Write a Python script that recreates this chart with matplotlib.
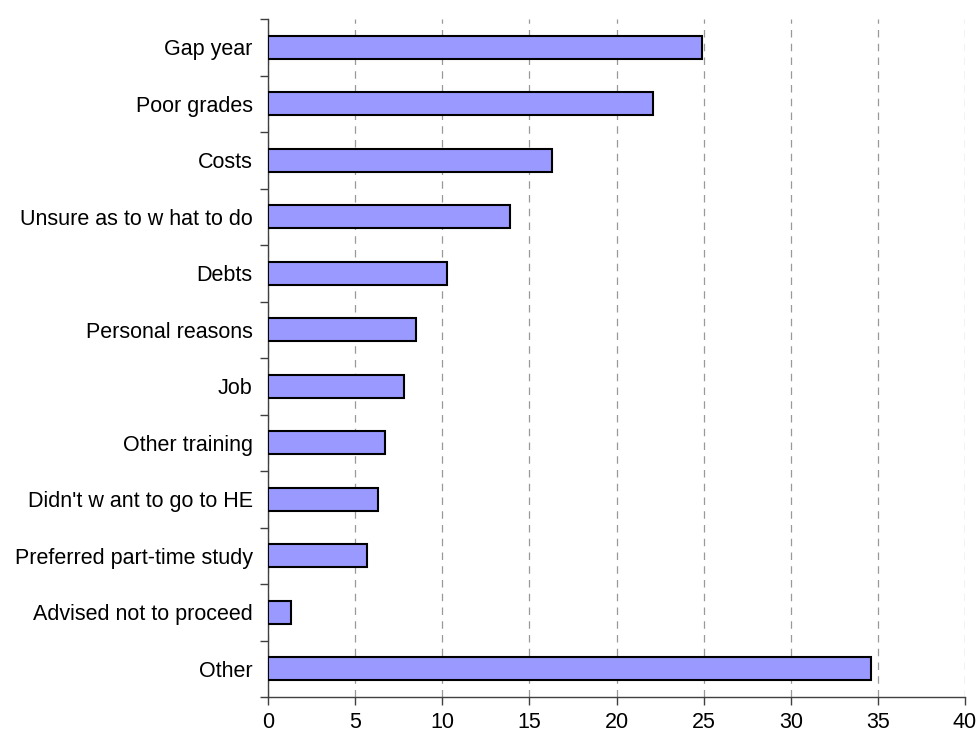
import numpy as np
import matplotlib.pyplot as plt

plt.rcParams['font.family'] = ['Liberation Sans', 'DejaVu Sans']

# reasons, top to bottom
reasons = ['Gap year', 'Poor grades', 'Costs', 'Unsure as to w hat to do', 'Debts',
           'Personal reasons', 'Job', 'Other training', "Didn't w ant to go to HE",
           'Preferred part-time study', 'Advised not to proceed', 'Other']
percent = [24.9, 22.1, 16.3, 13.9, 10.3, 8.5, 7.8, 6.7, 6.3, 5.7, 1.3, 34.6]
xticks = [0, 5, 10, 15, 20, 25, 30, 35, 40]

fig = plt.figure(figsize=(9.79, 7.36), dpi=100)
ax = fig.add_axes([268/979, 1 - 697/736, 697/979, 678/736])

n = len(reasons)
y = np.arange(n)
ax.barh(y, percent, height=0.4, color='#9999ff', edgecolor='black', linewidth=1.5, zorder=3)

ax.set_ylim(n - 0.5, -0.5)
ax.set_xlim(0, 40)

ax.set_yticks(y)
ax.set_yticklabels(reasons, fontsize=15.5)
ax.set_yticks(np.arange(n + 1) - 0.5, minor=True)
ax.tick_params(axis='y', which='major', length=0, pad=11)
ax.tick_params(axis='y', which='minor', length=6, width=1, color='#404040', direction='out')

ax.set_xticks(xticks)
ax.set_xticklabels([str(t) for t in xticks], fontsize=15.5)
ax.tick_params(axis='x', length=6, width=1, color='#404040', direction='out', pad=5)

ax.xaxis.grid(True, linestyle=(0, (6, 5)), color='#999999', linewidth=0.9, zorder=0)
ax.set_axisbelow(True)

for s in ['top', 'right']:
    ax.spines[s].set_visible(False)
ax.spines['left'].set_color('#404040')
ax.spines['bottom'].set_color('#404040')
ax.spines['left'].set_linewidth(1)
ax.spines['bottom'].set_linewidth(1)

fig.savefig('out.png', dpi=100)
